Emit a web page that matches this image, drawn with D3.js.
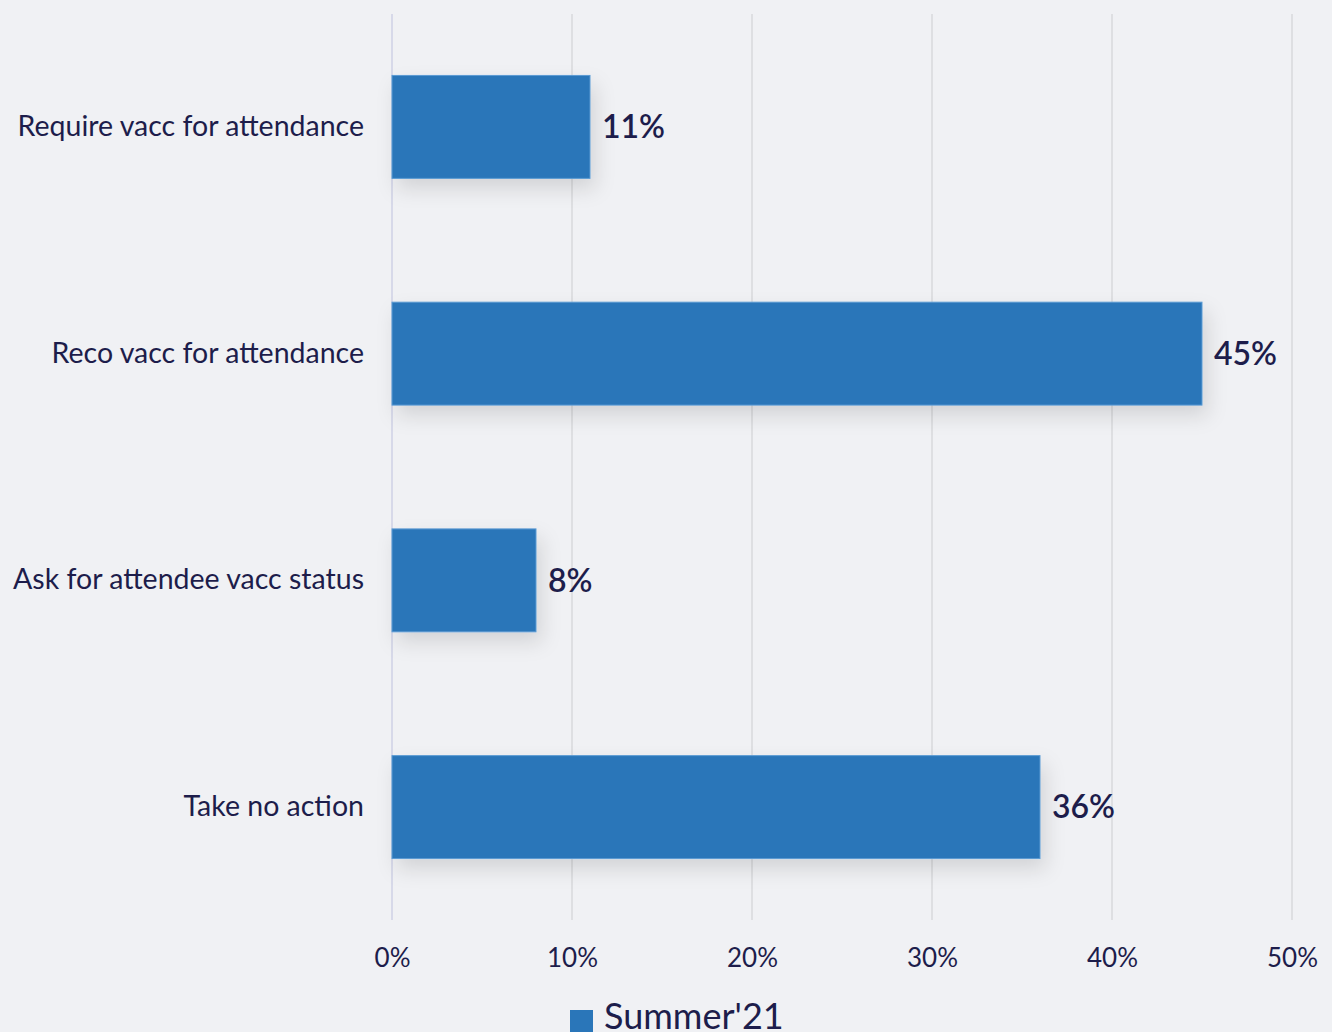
<!DOCTYPE html>
<html>
<head>
<meta charset="utf-8">
<script src="https://cdn.jsdelivr.net/npm/d3@7"></script>
<style>
  html, body { margin: 0; padding: 0; background: #f0f1f4; }
  svg { display: block; }
  text { font-family: Lato, "Noto Sans", sans-serif; fill: #1d1d4b; }
</style>
</head>
<body>
<svg id="chart" width="1332" height="1032"></svg>
<script>
// Survey responses: share of organisers choosing each policy
const categories = [
  "Require vacc for attendance",
  "Reco vacc for attendance",
  "Ask for attendee vacc status",
  "Take no action"
];
const values = [11, 45, 8, 36];
const xTicks = [0, 10, 20, 30, 40, 50];
const seriesName = "Summer'21";

const W = 1332, H = 1032;
const margin = { top: 14, right: 40, bottom: 112, left: 392 };
const svg = d3.select("#chart");

const x = d3.scaleLinear().domain([0, 50]).range([margin.left, W - margin.right]);
const y = d3.scaleBand().domain(categories)
  .range([margin.top, H - margin.bottom]).paddingInner(0.546).paddingOuter(0.271);

const defs = svg.append("defs");
const f = defs.append("filter").attr("id", "shadow")
  .attr("x", "-10%").attr("y", "-30%").attr("width", "130%").attr("height", "190%");
f.append("feDropShadow").attr("dx", 5).attr("dy", 10).attr("stdDeviation", 10)
  .attr("flood-color", "#000").attr("flood-opacity", 0.12);

// vertical grid
svg.append("g").selectAll("line").data(xTicks).join("line")
  .attr("x1", d => x(d)).attr("x2", d => x(d))
  .attr("y1", margin.top).attr("y2", H - margin.bottom)
  .attr("stroke", d => d === 0 ? "#cfd0e6" : "#d9d9dc")
  .attr("stroke-width", 1.5);

// x axis tick labels
const xAxis = d3.axisBottom(x).tickValues(xTicks).tickFormat(d => d + "%").tickSize(0).tickPadding(0);
const gx = svg.append("g").attr("transform", `translate(0,${H - margin.bottom + 38})`).call(xAxis);
gx.select(".domain").remove();
gx.selectAll("text").attr("font-size", 26).attr("dy", "0.35em")
  .style("font-family", "Lato, sans-serif").attr("fill", "#1d1d4b");

// category labels
const yAxis = d3.axisLeft(y).tickSize(0).tickPadding(28);
const gy = svg.append("g").attr("transform", `translate(${margin.left},0)`).call(yAxis);
gy.select(".domain").remove();
gy.selectAll("text").attr("font-size", 28.5).attr("fill", "#1d1d4b")
  .style("font-family", "Lato, sans-serif");

// bars
svg.append("g").selectAll("rect").data(values).join("rect")
  .attr("x", x(0))
  .attr("y", (d, i) => y(categories[i]))
  .attr("width", d => x(d) - x(0))
  .attr("height", y.bandwidth())
  .attr("fill", "#2a76b9")
  .attr("stroke", "#5b9bd3").attr("stroke-width", 1)
  .attr("filter", "url(#shadow)");

// value labels
svg.append("g").selectAll("text").data(values).join("text")
  .attr("x", d => x(d) + 12)
  .attr("y", (d, i) => y(categories[i]) + y.bandwidth() / 2)
  .attr("dy", "0.35em")
  .attr("font-size", 32)
  .attr("font-weight", 600)
  .text(d => d + "%");

// legend
const lg = svg.append("g");
lg.append("rect").attr("x", 570).attr("y", 1010).attr("width", 23).attr("height", 23).attr("fill", "#2a76b9");
lg.append("text").attr("x", 604).attr("y", 1029).attr("font-size", 36).text(seriesName);
</script>
</body>
</html>
